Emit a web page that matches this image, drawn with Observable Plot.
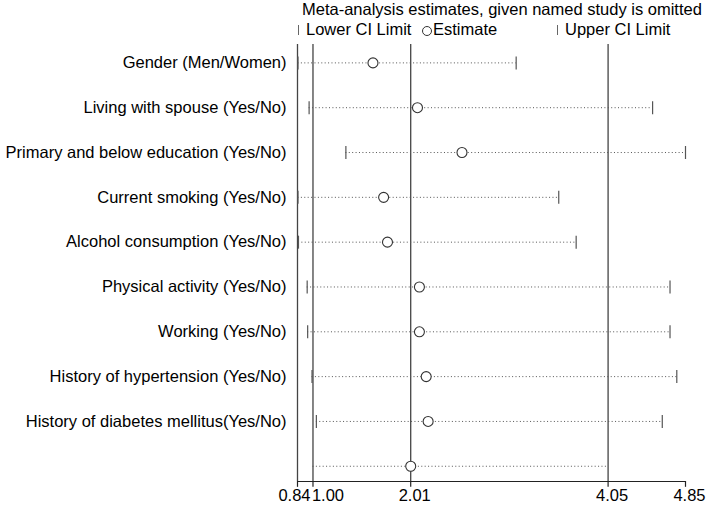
<!DOCTYPE html>
<html><head><meta charset="utf-8">
<script src="https://cdn.jsdelivr.net/npm/d3@7"></script>
<script src="https://cdn.jsdelivr.net/npm/@observablehq/plot@0.6"></script>
<style>
body{margin:0;background:#fff;font-family:"Liberation Sans",Arial,sans-serif;}
#wrap{position:relative;width:708px;}
#head{position:relative;height:44px;width:708px;color:#000;}
#head span{position:absolute;white-space:nowrap;font-size:16.5px;}
#head span.bar{width:0;height:10px;border-left:1.5px solid #666;top:25px;}
#head span.circ{width:8px;height:8px;border:1.1px solid #333;border-radius:50%;top:26px;}
</style></head>
<body><div id="wrap">
<div id="head">
<span id="title" style="left:302px;top:0px;">Meta-analysis estimates, given named study is omitted</span>
<span class="bar" style="left:298px;"></span><span style="left:306px;top:20px;">Lower CI Limit</span>
<span class="circ" style="left:422px;"></span><span style="left:433px;top:20px;">Estimate</span>
<span class="bar" style="left:557px;"></span><span style="left:565px;top:20px;">Upper CI Limit</span>
</div>
<div id="chart"></div>
</div>
<script>
const studies = ["Gender (Men/Women)","Living with spouse (Yes/No)","Primary and below education (Yes/No)","Current smoking (Yes/No)","Alcohol consumption (Yes/No)","Physical activity (Yes/No)","Working (Yes/No)","History of hypertension (Yes/No)","History of diabetes mellitus(Yes/No)",""];
const lower = [0.845,0.96,1.34,0.845,0.85,0.94,0.945,0.99,1.035,1.00];
const estimate = [1.62,2.08,2.54,1.73,1.77,2.10,2.10,2.17,2.19,2.01];
const upper = [3.10,4.51,4.85,3.54,3.72,4.69,4.69,4.76,4.61,4.05];
const refLines = [0.84,1.00,2.01,4.05];
const xTicks = [0.84,1.00,2.01,4.05,4.85];

const rows = studies.map((s,i)=>({study:s,i,lo:lower[i],est:estimate[i],hi:upper[i]}));
const vbar = {draw(ctx,size){const h=Math.sqrt(size/Math.PI);ctx.moveTo(0,-h);ctx.lineTo(0,h);}};
const fmt = d3.format(".2f");
const yDomain = [-0.41, 9.34];
const axisPos = yDomain[1];

const chart = Plot.plot({
  width:708, height:464,
  marginLeft:297, marginRight:23, marginTop:0, marginBottom:27,
  x:{domain:[xTicks[0], xTicks[xTicks.length-1]], axis:null},
  y:{domain:yDomain, reverse:true, axis:null},
  style:{fontFamily:"'Liberation Sans', Arial, sans-serif", background:"white"},
  marks:[
    Plot.ruleX(refLines,{stroke:"#444",strokeWidth:1.3}),
    Plot.ruleY([axisPos],{y:d=>d, x1:()=>xTicks[0], x2:()=>xTicks[xTicks.length-1], stroke:"#222",strokeWidth:1.2}),
    Plot.ruleX(xTicks,{x:d=>d, y1:()=>axisPos, y2:()=>axisPos+0.13, stroke:"#222", strokeWidth:1.2}),
    Plot.ruleY(rows,{y:"i",x1:"lo",x2:"hi",stroke:"#555",strokeWidth:1,strokeDasharray:"1,2.4"}),
    Plot.dot(rows.slice(0,9),{x:"lo",y:"i",symbol:vbar,r:6.5,stroke:"#555",strokeWidth:1.2}),
    Plot.dot(rows.slice(0,9),{x:"hi",y:"i",symbol:vbar,r:6.5,stroke:"#555",strokeWidth:1.2}),
    Plot.dot(rows,{x:"est",y:"i",r:5,stroke:"#333",strokeWidth:1.1,fill:"white"}),
    Plot.text(rows,{x:()=>xTicks[0],y:"i",text:"study",textAnchor:"end",dx:-11,fontSize:16.5,fill:"#000"}),
    Plot.text([xTicks[0]],{x:d=>d,text:fmt,frameAnchor:"bottom",dy:19,dx:-3,fontSize:16.5,fill:"#000"}),
    Plot.text([xTicks[1]],{x:d=>d,text:fmt,frameAnchor:"bottom",dy:19,dx:15,fontSize:16.5,fill:"#000"}),
    Plot.text(xTicks.slice(2),{x:d=>d,text:fmt,frameAnchor:"bottom",dy:19,dx:4,fontSize:16.5,fill:"#000"})
  ]
});
document.getElementById("chart").appendChild(chart);
</script>
</body></html>
